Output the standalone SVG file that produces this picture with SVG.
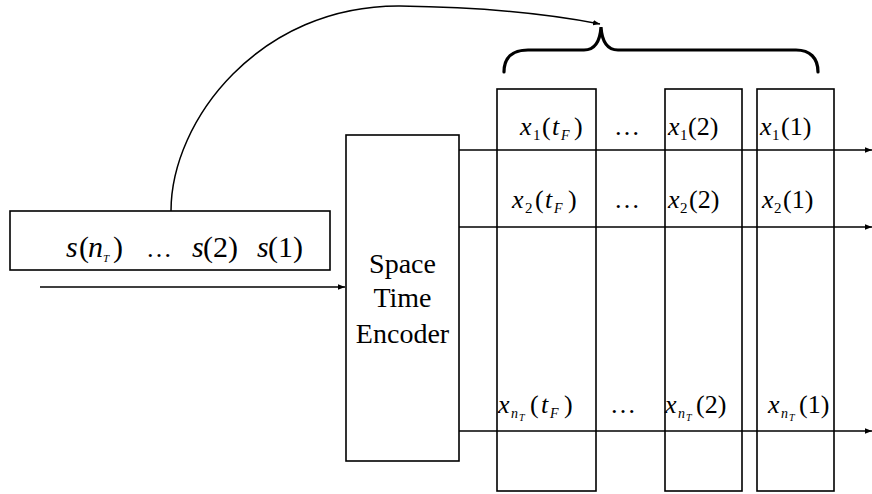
<svg xmlns="http://www.w3.org/2000/svg" width="872" height="494" viewBox="0 0 872 494">
<defs>
  <marker id="ah" viewBox="0 0 10 10" refX="10" refY="5" markerWidth="7" markerHeight="7" markerUnits="userSpaceOnUse" orient="auto">
    <path d="M0,1 L10,5 L0,9 Z" fill="#000"/>
  </marker>
</defs>
<rect width="872" height="494" fill="#fff"/>

<g id="connectors" fill="none" stroke="#000" stroke-width="1.5">
  <path d="M171,211 C171,120 260,5 400,6 C470,7 540,12 600,24" marker-end="url(#ah)"/>
  <line x1="40" y1="287" x2="345" y2="287" marker-end="url(#ah)"/>
  <line x1="459" y1="150" x2="872" y2="150" marker-end="url(#ah)"/>
  <line x1="459" y1="227" x2="872" y2="227" marker-end="url(#ah)"/>
  <line x1="459" y1="431" x2="872" y2="431" marker-end="url(#ah)"/>
</g>

<g id="brace">
  <path fill="none" stroke="#000" stroke-width="3.2" stroke-linecap="round" d="M504,72 C504,58 512,50 528,50 L584,50 C594,50 600,42 601,27 C602,42 608,50 618,50 L796,50 C810,50 818,58 818,72"/>
</g>

<g id="input" style="font-family:'Liberation Serif',Tinos,serif">
  <rect fill="none" stroke="#000" stroke-width="1.6" x="10" y="211" width="320" height="59"/>
  <text font-family="Liberation Serif" style="font-family:'Liberation Serif',Tinos,serif" font-size="30" font-style="italic" x="66" y="257">s</text>
  <text font-family="Liberation Serif" style="font-family:'Liberation Serif',Tinos,serif" font-size="30" x="79" y="257">(</text>
  <text font-family="Liberation Serif" style="font-family:'Liberation Serif',Tinos,serif" font-size="30" font-style="italic" x="88" y="257">n</text>
  <text font-family="Liberation Serif" style="font-family:'Liberation Serif',Tinos,serif" font-size="11" font-style="italic" x="103" y="262">T</text>
  <text font-family="Liberation Serif" style="font-family:'Liberation Serif',Tinos,serif" font-size="30" x="113" y="257">)</text>
  <text font-family="Liberation Serif" style="font-family:'Liberation Serif',Tinos,serif" font-size="26" x="146" y="257">…</text>
  <text font-family="Liberation Serif" style="font-family:'Liberation Serif',Tinos,serif" font-size="30" font-style="italic" x="192" y="257">s</text>
  <text font-family="Liberation Serif" style="font-family:'Liberation Serif',Tinos,serif" font-size="30" x="203" y="257">(2)</text>
  <text font-family="Liberation Serif" style="font-family:'Liberation Serif',Tinos,serif" font-size="30" font-style="italic" x="257" y="257">s</text>
  <text font-family="Liberation Serif" style="font-family:'Liberation Serif',Tinos,serif" font-size="30" x="268" y="257">(1)</text>
</g>

<g id="encoder" style="font-family:'Liberation Serif',Tinos,serif">
  <rect fill="none" stroke="#000" stroke-width="1.6" x="346" y="135" width="113" height="326"/>
  <text font-family="Liberation Serif" style="font-family:'Liberation Serif',Tinos,serif" font-size="28" text-anchor="middle" x="402.5" y="273">Space</text>
  <text font-family="Liberation Serif" style="font-family:'Liberation Serif',Tinos,serif" font-size="28" text-anchor="middle" x="402.5" y="307">Time</text>
  <text font-family="Liberation Serif" style="font-family:'Liberation Serif',Tinos,serif" font-size="28" text-anchor="middle" x="402.5" y="343">Encoder</text>
</g>

<g id="col-tF" style="font-family:'Liberation Serif',Tinos,serif">
  <rect fill="none" stroke="#000" stroke-width="1.6" x="497" y="89" width="99" height="402"/>
  <text font-family="Liberation Serif" style="font-family:'Liberation Serif',Tinos,serif" font-size="26" font-style="italic" x="520" y="135">x</text>
  <text font-family="Liberation Serif" style="font-family:'Liberation Serif',Tinos,serif" font-size="15" x="533" y="140">1</text>
  <text font-family="Liberation Serif" style="font-family:'Liberation Serif',Tinos,serif" font-size="26" x="542" y="135">(</text>
  <text font-family="Liberation Serif" style="font-family:'Liberation Serif',Tinos,serif" font-size="26" font-style="italic" x="552" y="135">t</text>
  <text font-family="Liberation Serif" style="font-family:'Liberation Serif',Tinos,serif" font-size="14" font-style="italic" x="561" y="140">F</text>
  <text font-family="Liberation Serif" style="font-family:'Liberation Serif',Tinos,serif" font-size="26" x="574" y="135">)</text>
  <text font-family="Liberation Serif" style="font-family:'Liberation Serif',Tinos,serif" font-size="26" font-style="italic" x="512" y="208">x</text>
  <text font-family="Liberation Serif" style="font-family:'Liberation Serif',Tinos,serif" font-size="15" x="525" y="213">2</text>
  <text font-family="Liberation Serif" style="font-family:'Liberation Serif',Tinos,serif" font-size="26" x="535" y="208">(</text>
  <text font-family="Liberation Serif" style="font-family:'Liberation Serif',Tinos,serif" font-size="26" font-style="italic" x="545" y="208">t</text>
  <text font-family="Liberation Serif" style="font-family:'Liberation Serif',Tinos,serif" font-size="14" font-style="italic" x="554" y="213">F</text>
  <text font-family="Liberation Serif" style="font-family:'Liberation Serif',Tinos,serif" font-size="26" x="568" y="208">)</text>
  <text font-family="Liberation Serif" style="font-family:'Liberation Serif',Tinos,serif" font-size="26" font-style="italic" x="498" y="413">x</text>
  <text font-family="Liberation Serif" style="font-family:'Liberation Serif',Tinos,serif" font-size="14" font-style="italic" x="511" y="418">n</text>
  <text font-family="Liberation Serif" style="font-family:'Liberation Serif',Tinos,serif" font-size="10" font-style="italic" x="519" y="421">T</text>
  <text font-family="Liberation Serif" style="font-family:'Liberation Serif',Tinos,serif" font-size="26" x="530" y="413">(</text>
  <text font-family="Liberation Serif" style="font-family:'Liberation Serif',Tinos,serif" font-size="26" font-style="italic" x="541" y="413">t</text>
  <text font-family="Liberation Serif" style="font-family:'Liberation Serif',Tinos,serif" font-size="14" font-style="italic" x="550" y="418">F</text>
  <text font-family="Liberation Serif" style="font-family:'Liberation Serif',Tinos,serif" font-size="26" x="564" y="413">)</text>
</g>

<g id="dots" style="font-family:'Liberation Serif',Tinos,serif">
  <text font-family="Liberation Serif" style="font-family:'Liberation Serif',Tinos,serif" font-size="26" x="614" y="135">…</text>
  <text font-family="Liberation Serif" style="font-family:'Liberation Serif',Tinos,serif" font-size="26" x="614" y="208">…</text>
  <text font-family="Liberation Serif" style="font-family:'Liberation Serif',Tinos,serif" font-size="26" x="610" y="413">…</text>
</g>

<g id="col-2" style="font-family:'Liberation Serif',Tinos,serif">
  <rect fill="none" stroke="#000" stroke-width="1.6" x="665" y="89" width="77" height="402"/>
  <text font-family="Liberation Serif" style="font-family:'Liberation Serif',Tinos,serif" font-size="26" font-style="italic" x="668" y="135">x</text>
  <text font-family="Liberation Serif" style="font-family:'Liberation Serif',Tinos,serif" font-size="15" x="680" y="140">1</text>
  <text font-family="Liberation Serif" style="font-family:'Liberation Serif',Tinos,serif" font-size="26" x="688" y="135">(2)</text>
  <text font-family="Liberation Serif" style="font-family:'Liberation Serif',Tinos,serif" font-size="26" font-style="italic" x="668" y="208">x</text>
  <text font-family="Liberation Serif" style="font-family:'Liberation Serif',Tinos,serif" font-size="15" x="680" y="213">2</text>
  <text font-family="Liberation Serif" style="font-family:'Liberation Serif',Tinos,serif" font-size="26" x="689" y="208">(2)</text>
  <text font-family="Liberation Serif" style="font-family:'Liberation Serif',Tinos,serif" font-size="26" font-style="italic" x="665" y="413">x</text>
  <text font-family="Liberation Serif" style="font-family:'Liberation Serif',Tinos,serif" font-size="14" font-style="italic" x="678" y="418">n</text>
  <text font-family="Liberation Serif" style="font-family:'Liberation Serif',Tinos,serif" font-size="10" font-style="italic" x="686" y="421">T</text>
  <text font-family="Liberation Serif" style="font-family:'Liberation Serif',Tinos,serif" font-size="26" x="696" y="413">(2)</text>
</g>

<g id="col-1" style="font-family:'Liberation Serif',Tinos,serif">
  <rect fill="none" stroke="#000" stroke-width="1.6" x="757" y="89" width="77" height="402"/>
  <text font-family="Liberation Serif" style="font-family:'Liberation Serif',Tinos,serif" font-size="26" font-style="italic" x="760" y="135">x</text>
  <text font-family="Liberation Serif" style="font-family:'Liberation Serif',Tinos,serif" font-size="15" x="772" y="140">1</text>
  <text font-family="Liberation Serif" style="font-family:'Liberation Serif',Tinos,serif" font-size="26" x="781" y="135">(1)</text>
  <text font-family="Liberation Serif" style="font-family:'Liberation Serif',Tinos,serif" font-size="26" font-style="italic" x="762" y="208">x</text>
  <text font-family="Liberation Serif" style="font-family:'Liberation Serif',Tinos,serif" font-size="15" x="774" y="213">2</text>
  <text font-family="Liberation Serif" style="font-family:'Liberation Serif',Tinos,serif" font-size="26" x="783" y="208">(1)</text>
  <text font-family="Liberation Serif" style="font-family:'Liberation Serif',Tinos,serif" font-size="26" font-style="italic" x="768" y="413">x</text>
  <text font-family="Liberation Serif" style="font-family:'Liberation Serif',Tinos,serif" font-size="14" font-style="italic" x="781" y="418">n</text>
  <text font-family="Liberation Serif" style="font-family:'Liberation Serif',Tinos,serif" font-size="10" font-style="italic" x="789" y="421">T</text>
  <text font-family="Liberation Serif" style="font-family:'Liberation Serif',Tinos,serif" font-size="26" x="799" y="413">(1)</text>
</g>
</svg>
